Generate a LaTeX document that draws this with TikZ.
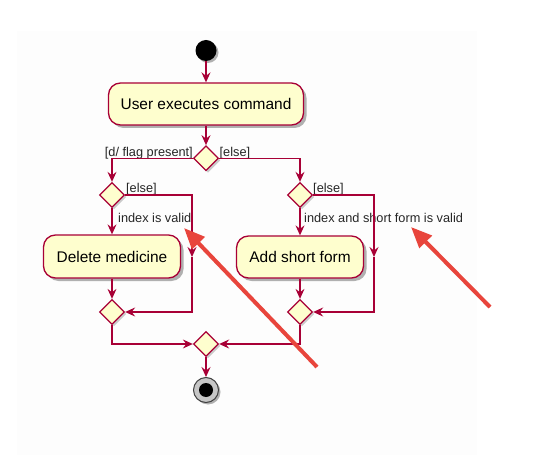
\documentclass[tikz,border=0pt]{standalone}
\usepackage{fontspec}
\setmainfont{Liberation Sans}
\usetikzlibrary{shapes.geometric,arrows.meta,shadows}
\definecolor{umlborder}{HTML}{A80036}
\definecolor{umlfill}{HTML}{FEFECE}
\definecolor{annot}{HTML}{E8453C}
\definecolor{bgfaint}{HTML}{FDFDFD}
\tikzset{
  flow/.style={draw=umlborder, line width=1.3bp, -{Stealth[length=10bp,width=9bp,inset=3.5bp]}},
  actbox/.style={draw=umlborder, fill=umlfill, line width=1.3bp, rounded corners=12bp,
    inner sep=0pt, font=\fontsize{15.5}{18}\selectfont,
    drop shadow={shadow xshift=3bp, shadow yshift=-3bp, opacity=0.3, fill=black}},
  decis/.style={diamond, draw=umlborder, fill=umlfill, line width=1.3bp, inner sep=0pt,
    minimum width=25bp, minimum height=25bp,
    drop shadow={shadow xshift=2bp, shadow yshift=-2bp, opacity=0.2, fill=black}},
  guard/.style={font=\fontsize{12.8}{14}\selectfont, text=black!85, inner sep=0pt},
  redarrow/.style={draw=annot, line width=4bp, -{Triangle[length=21bp,width=17bp]}}
}
\begin{document}
\begin{tikzpicture}[x=1bp,y=-1bp]
\useasboundingbox (0,0) rectangle (541,459);
\fill[bgfaint] (17,31) rectangle (477,455);
% nodes
\node[circle, fill=black, minimum size=21bp, inner sep=0pt,
  drop shadow={shadow xshift=2bp, shadow yshift=-2bp, opacity=0.3, fill=black}] (start) at (206,50.5) {};
\node[actbox, minimum width=195bp, minimum height=42bp] (cmd) at (206,104) {User executes command};
\node[decis] (d1) at (206,158.3) {};
\node[decis] (d2) at (112,195) {};
\node[decis] (d3) at (300,195) {};
\node[actbox, minimum width=137bp, minimum height=43bp] (del) at (112,256.5) {Delete medicine};
\node[actbox, minimum width=127bp, minimum height=42bp] (add) at (300,257) {Add short form};
\node[decis] (m2) at (112,312) {};
\node[decis] (m3) at (300,312) {};
\node[decis] (m1) at (206,344) {};
\node[circle, draw=black!75, line width=1bp, fill=gray!45, minimum size=25bp, inner sep=0pt,
  drop shadow={shadow xshift=2bp, shadow yshift=-2bp, opacity=0.3, fill=black}] (stop) at (206,390) {};
\node[circle, fill=black, minimum size=14bp, inner sep=0pt] (stopdot) at (stop.center) {};
% guard labels
\node[guard, anchor=base east] (g1) at (193,156.5) {[d/ flag present]};
\node[guard, anchor=base west] (g2) at (219.5,156.5) {[else]};
\node[guard, anchor=base west] (g3) at (126,192.5) {[else]};
\node[guard, anchor=base west] (g4) at (313,192.5) {[else]};
\node[guard, anchor=base west] (g5) at (118,222.7) {index is valid};
\node[guard, anchor=base west] (g6) at (304,222.7) {index and short form is valid};
% helper coordinates
\coordinate (c2) at (192,257);
\coordinate (c3) at (374,257);
% connectors
\draw[flow] (start) -- (cmd);
\draw[flow] (cmd) -- (d1);
\draw[flow] (d1.west) -| (d2.north);
\draw[flow] (d1.east) -| (d3.north);
\draw[flow] (d2.south) -- (del.north);
\draw[flow] (d3.south) -- (add.north);
\draw[flow] (d2.east) -| (c2);
\draw[flow] (c2) |- (m2.east);
\draw[flow] (d3.east) -| (c3);
\draw[flow] (c3) |- (m3.east);
\draw[flow] (del.south) -- (m2.north);
\draw[flow] (add.south) -- (m3.north);
\draw[flow] (m2.south) |- (m1.west);
\draw[flow] (m3.south) |- (m1.east);
\draw[flow] (m1.south) -- (stop.north);
% annotation arrows
\coordinate (t1) at (317,367);
\coordinate (h1) at (184,228);
\coordinate (t2) at (490,307);
\coordinate (h2) at (411,227);
\draw[redarrow] (t1) -- (h1);
\draw[redarrow] (t2) -- (h2);
\end{tikzpicture}
\end{document}
